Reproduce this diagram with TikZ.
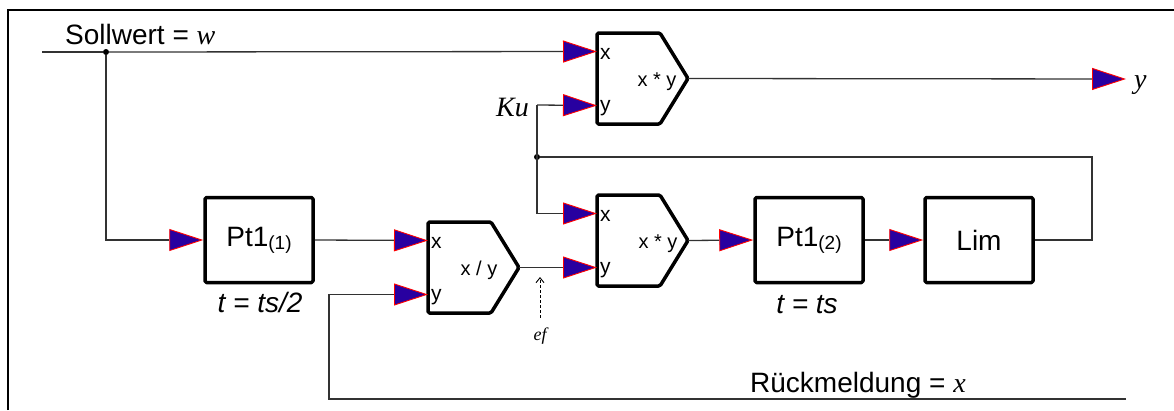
\documentclass[tikz,border=0pt]{standalone}
\usepackage{fontspec}
\setmainfont{Liberation Sans}
\newfontfamily\tnr{Liberation Serif}
\usetikzlibrary{arrows.meta}
\definecolor{triblue}{RGB}{40,0,160}
\definecolor{wirecol}{RGB}{50,50,50}
\tikzset{
  wire/.style={draw=wirecol,line width=1.3pt},
  feed/.style={wire,-{Triangle[length=34pt,width=22pt,color=red,fill=triblue,line width=0.9pt]}},
  blk/.style={draw=black,line width=3.5pt,line join=round,rounded corners=1.5pt},
  box/.style={blk,rectangle,minimum width=108pt,minimum height=85pt,inner sep=0pt,font=\fontsize{28}{30}\selectfont},
  port/.style={font=\fontsize{21}{23}\selectfont,inner sep=0pt,anchor=base west},
  oplbl/.style={font=\fontsize{20}{22}\selectfont,inner sep=0pt,anchor=base},
  big/.style={font=\fontsize{28}{30}\selectfont,inner sep=0pt},
  jdot/.style={circle,fill=black,inner sep=0pt,minimum size=6pt},
  hint/.style={draw=black,line width=0.9pt,dash pattern=on 3pt off 2pt,-{Straight Barb[length=5pt,width=8pt]}},
}
% #1 name, #2 left x, #3 top y, #4 label, #5 label dx
\newcommand{\opblock}[5]{%
  \draw[blk] (#2,#3) -- ++(63,0) -- ++(28,45.5) -- ++(-28,45.5) -- ++(-63,0) -- cycle;
  \coordinate (#1-x) at (#2,#3+18.5);
  \coordinate (#1-y) at (#2,#3+72.5);
  \coordinate (#1-out) at (#2+91,#3+45.5);
  \node[port] (#1-xl) at (#2+3,#3+18.5+8) {x};
  \node[port] (#1-yl) at (#2+3,#3+72.5+6) {y};
  \node[oplbl] (#1-l) at (#2+#5,#3+45.5+8) {#4};
}
\begin{document}
\begin{tikzpicture}[x=1pt,y=-1pt]
\useasboundingbox (0,0) rectangle (1174,410);
\draw[line width=2pt] (7.7,410) -- (7.7,10) -- (1174,10);

% blocks
\opblock{mA}{597}{33}{x * y}{60}
\opblock{mB}{597}{195}{x * y}{61}
\opblock{dv}{428}{222}{x / y}{51}
\node[box] (p1) at (259,240) {Pt1\raisebox{-3pt}{\fontsize{19}{20}\selectfont(1)}};
\node[box] (p2) at (809,240) {Pt1\raisebox{-3pt}{\fontsize{19}{20}\selectfont(2)}};
\node[box] (lim) at (979,240) {Lim};

% labels
\node[big,anchor=base west] (sw) at (65,44) {Sollwert = {\tnr\itshape w}};
\node[big,anchor=base] (t1) at (260,312) {\itshape t = ts/2};
\node[big,anchor=base] (t2) at (807,313) {\itshape t = ts};
\node[big,anchor=base east] (ku) at (529,116) {\tnr\itshape Ku};
\node[big,anchor=base west] (yl) at (1134,88) {\tnr\itshape y};
\node[big,anchor=base west] (rm) at (750,392) {Rückmeldung = {\tnr\itshape x}};
\node[font=\fontsize{18}{20}\selectfont\tnr\itshape,inner sep=0pt] (ef) at (540,336) {ef};

% points
\coordinate (w0) at (42,52);
\node[jdot] (j1) at (106,52) {};
\coordinate (kuw) at (537,105);
\node[jdot] (j2) at (537,157) {};
\coordinate (fbr) at (1092,157);
\coordinate (yend) at (1126,79);
\coordinate (rb) at (1126,399);
\coordinate (rc) at (329,399);
\coordinate (efp) at (540,277);

% wires
\draw[wire] (w0) -- (j1);
\draw[feed] (j1) -- (mA-x);
\draw[feed] (j1) |- (p1.west);
\draw[feed] (kuw) -- (mA-y);
\draw[feed] (kuw) |- (mB-x);
\draw[feed] (mA-out) -- (yend);
\draw[feed] (p1.east) -- (dv-x);
\draw[feed] (dv-out) -- (mB-y);
\draw[feed] (mB-out) -- (p2.west);
\draw[feed] (p2.east) -- (lim.west);
\draw[wire] (lim.east) -| (fbr) -- (j2);
\draw[feed] (rb) -- (rc) |- (dv-y);
\draw[hint] ([yshift=10pt]ef.north) -- (efp);
\end{tikzpicture}
\end{document}
